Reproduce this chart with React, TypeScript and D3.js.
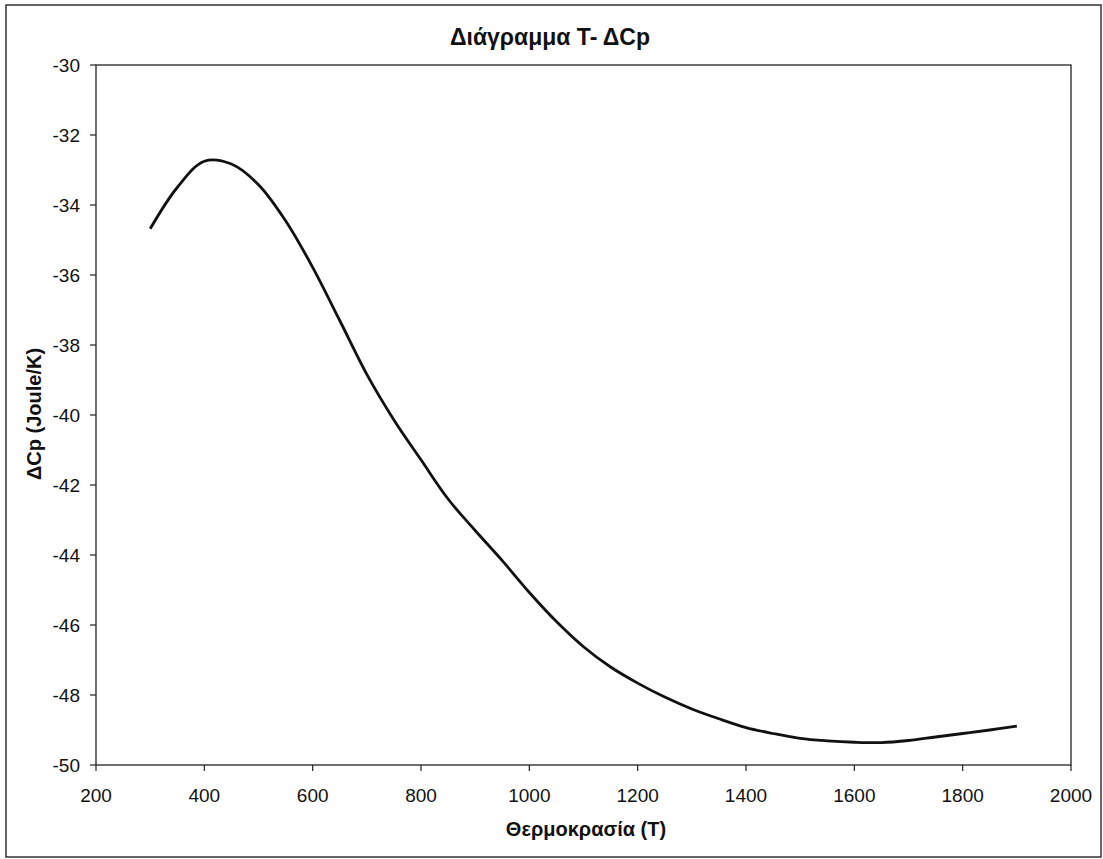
import React from "react";
import * as d3 from "d3";

const temps = [300, 350, 400, 450, 500, 550, 600, 650, 700, 750, 800, 850, 900, 950, 1000, 1050, 1100, 1150, 1200, 1250, 1300, 1350, 1400, 1450, 1500, 1550, 1600, 1650, 1700, 1750, 1800, 1850, 1900];
const dcp = [-34.68, -33.5, -32.75, -32.83, -33.42, -34.45, -35.78, -37.3, -38.84, -40.14, -41.28, -42.4, -43.3, -44.16, -45.07, -45.9, -46.62, -47.2, -47.66, -48.06, -48.4, -48.68, -48.93, -49.1, -49.24, -49.31, -49.35, -49.36, -49.3, -49.2, -49.1, -49.0, -48.89];
const xTicks = [200, 400, 600, 800, 1000, 1200, 1400, 1600, 1800, 2000];
const yTicks = [-30, -32, -34, -36, -38, -40, -42, -44, -46, -48, -50];

const W = 1103, H = 859;
const left = 96, right = 1071, top = 65, bottom = 765;

export default function App() {
  const x = d3.scaleLinear().domain([200, 2000]).range([left, right]);
  const y = d3.scaleLinear().domain([-50, -30]).range([bottom, top]);
  const line = d3.line<number>().x((_, i) => x(temps[i])).y((d) => y(d)).curve(d3.curveCatmullRom.alpha(0.5));
  const font = "Arial, 'Liberation Sans', sans-serif";
  return (
    <svg width={W} height={H} style={{ position: "absolute", left: 0, top: 0, background: "#fff" }} fontFamily={font}>
      <rect x={6} y={5} width={1095} height={852} fill="#fff" stroke="#333" strokeWidth={1.5} />
      <text x={550} y={45} textAnchor="middle" fontWeight="bold" fontSize={23} fill="#111">Διάγραμμα Τ- ΔCp</text>
      <rect x={left} y={top} width={right - left} height={bottom - top} fill="none" stroke="#222" strokeWidth={1.3} />
      {yTicks.map((t) => (
        <g key={t}>
          <line x1={left - 6} x2={left} y1={y(t)} y2={y(t)} stroke="#222" strokeWidth={1.2} />
          <text x={80} y={y(t) + 7} textAnchor="end" fontSize={19} fill="#111">{t}</text>
        </g>
      ))}
      {xTicks.map((t) => (
        <g key={t}>
          <line x1={x(t)} x2={x(t)} y1={bottom} y2={bottom + 6} stroke="#222" strokeWidth={1.2} />
          <text x={x(t)} y={802} textAnchor="middle" fontSize={19} fill="#111">{t}</text>
        </g>
      ))}
      <path d={line(dcp) || ""} fill="none" stroke="#111" strokeWidth={2.8} />
      <text x={586} y={836} textAnchor="middle" fontWeight="bold" fontSize={20} fill="#111">Θερμοκρασία (T)</text>
      <text transform={`translate(41, 414) rotate(-90)`} textAnchor="middle" fontWeight="bold" fontSize={20} fill="#111">ΔCp (Joule/K)</text>
    </svg>
  );
}
